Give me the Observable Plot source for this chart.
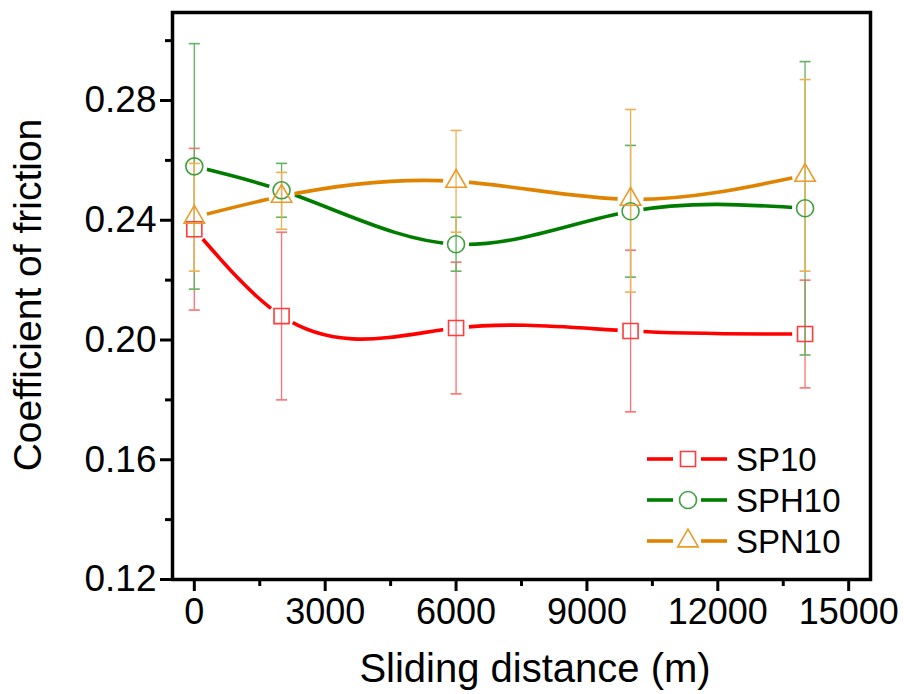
<!DOCTYPE html>
<html>
<head>
<meta charset="utf-8">
<script src="https://cdn.jsdelivr.net/npm/d3@7"></script>
<script src="https://cdn.jsdelivr.net/npm/@observablehq/plot@0.6"></script>
<style>
  html, body { margin: 0; padding: 0; background: #fff; }
  #chart { width: 904px; height: 694px; }
</style>
</head>
<body>
<div id="chart"></div>
<script>
// ---- data ----
const distance = [0, 2000, 6000, 10000, 14000];

const sp10    = [0.237, 0.208, 0.204, 0.203, 0.202];
const sp10Hi  = [0.264, 0.236, 0.226, 0.230, 0.220];
const sp10Lo  = [0.210, 0.180, 0.182, 0.176, 0.184];

const sph10   = [0.258, 0.250, 0.232, 0.243, 0.244];
const sph10Hi = [0.299, 0.259, 0.241, 0.265, 0.293];
const sph10Lo = [0.217, 0.241, 0.223, 0.221, 0.195];

const spn10   = [0.241, 0.248, 0.253, 0.247, 0.255];
const spn10Hi = [0.259, 0.256, 0.270, 0.277, 0.287];
const spn10Lo = [0.223, 0.237, 0.236, 0.216, 0.223];

const seriesNames = ["SP10", "SPH10", "SPN10"];
const xTicks = [0, 3000, 6000, 9000, 12000, 15000];
const xMinor = [1500, 4500, 7500, 10500, 13500];
const yTicks = [0.12, 0.16, 0.20, 0.24, 0.28];
const yMinor = [0.14, 0.18, 0.22, 0.26, 0.30];
const xTitle = "Sliding distance (m)";
const yTitle = "Coefficient of friction";

// ---- styles ----
const lineColor = {SP10: "#ff0000", SPH10: "#007d00", SPN10: "#e08300"};
const markColor = {SP10: "#ff3b3b", SPH10: "#3f9f3f", SPN10: "#e99a2a"};
const barColor  = {SP10: "#ff7070", SPH10: "#5fb35f", SPN10: "#f0b050"};
const symbolOf  = {SP10: "square", SPH10: "circle", SPN10: "triangle"};
const radiusOf  = {SP10: 8.5, SPH10: 8.5, SPN10: 7.6};

const table = [[sp10, sp10Lo, sp10Hi], [sph10, sph10Lo, sph10Hi], [spn10, spn10Lo, spn10Hi]];
const rows = [];
seriesNames.forEach((s, i) => {
  distance.forEach((d, j) => {
    rows.push({series: s, d, v: table[i][0][j], lo: table[i][1][j], hi: table[i][2][j]});
  });
});
const bySeries = s => rows.filter(r => r.series === s);

// error-bar cap symbol
const capSymbol = {
  draw(context, size) {
    const r = Math.sqrt(size / Math.PI);
    context.moveTo(-r, 0);
    context.lineTo(r, 0);
  }
};

// natural cubic spline curve, y as a function of x (like Origin's spline connector)
function curveSplineX(context) {
  let xs, ys;
  return {
    areaStart() {}, areaEnd() {},
    lineStart() { xs = []; ys = []; },
    point(x, y) { xs.push(+x); ys.push(+y); },
    lineEnd() {
      const n = xs.length;
      if (!n) return;
      context.moveTo(xs[0], ys[0]);
      if (n < 3) { for (let i = 1; i < n; i++) context.lineTo(xs[i], ys[i]); return; }
      const h = [], M = new Array(n).fill(0);
      for (let i = 0; i < n - 1; i++) h.push(xs[i + 1] - xs[i]);
      const a = [], b = [], c = [], r = [];
      for (let i = 1; i < n - 1; i++) {
        a.push(h[i - 1]); b.push(2 * (h[i - 1] + h[i])); c.push(h[i]);
        r.push(6 * ((ys[i + 1] - ys[i]) / h[i] - (ys[i] - ys[i - 1]) / h[i - 1]));
      }
      const m = b.length;
      for (let i = 1; i < m; i++) {
        const w = a[i] / b[i - 1];
        b[i] -= w * c[i - 1];
        r[i] -= w * r[i - 1];
      }
      const sol = new Array(m);
      sol[m - 1] = r[m - 1] / b[m - 1];
      for (let i = m - 2; i >= 0; i--) sol[i] = (r[i] - c[i] * sol[i + 1]) / b[i];
      for (let i = 0; i < m; i++) M[i + 1] = sol[i];
      for (let i = 0; i < n - 1; i++) {
        const hi = h[i], dy = (ys[i + 1] - ys[i]) / hi;
        const m0 = dy - hi * (2 * M[i] + M[i + 1]) / 6;
        const m1 = dy + hi * (M[i] + 2 * M[i + 1]) / 6;
        context.bezierCurveTo(
          xs[i] + hi / 3, ys[i] + m0 * hi / 3,
          xs[i + 1] - hi / 3, ys[i + 1] - m1 * hi / 3,
          xs[i + 1], ys[i + 1]
        );
      }
    }
  };
}

const font = "'Liberation Sans', Arial, Helvetica, sans-serif";

const marks = [];
seriesNames.forEach(s => {
  marks.push(Plot.line(bySeries(s), {x: "d", y: "v", stroke: lineColor[s], strokeWidth: 3.6, curve: curveSplineX}));
});
marks.push(Plot.dot(rows, {x: "d", y: "v", r: 13, fill: "white", stroke: "none"}));
seriesNames.forEach(s => {
  const data = bySeries(s);
  marks.push(Plot.ruleX(data, {x: "d", y1: "lo", y2: "hi", stroke: barColor[s], strokeWidth: 1.3}));
  marks.push(Plot.dot(data, {x: "d", y: "lo", symbol: capSymbol, r: 5.5, stroke: barColor[s], strokeWidth: 1.6, fill: "none"}));
  marks.push(Plot.dot(data, {x: "d", y: "hi", symbol: capSymbol, r: 5.5, stroke: barColor[s], strokeWidth: 1.6, fill: "none"}));
});
seriesNames.forEach(s => {
  marks.push(Plot.dot(bySeries(s), {x: "d", y: "v", symbol: symbolOf[s], r: radiusOf[s], stroke: markColor[s], strokeWidth: 1.6, fill: "none"}));
});
marks.push(Plot.axisX(xTicks, {tickSize: 12, tickPadding: 7, strokeWidth: 3, fontSize: 36, color: "black", tickFormat: d3.format("d"), label: null}));
marks.push(Plot.axisX(xMinor, {tickSize: 7, strokeWidth: 3, color: "black", tickFormat: () => "", label: null}));
marks.push(Plot.axisY(yTicks, {tickSize: 12, tickPadding: 4, strokeWidth: 3, fontSize: 37, color: "black", tickFormat: d3.format(".2f"), label: null}));
marks.push(Plot.axisY(yMinor, {tickSize: 7, strokeWidth: 3, color: "black", tickFormat: () => "", label: null}));
marks.push(Plot.frame({stroke: "black", strokeWidth: 3.5}));

const chart = Plot.plot({
  width: 904,
  height: 694,
  marginLeft: 172,
  marginRight: 34,
  marginTop: 12,
  marginBottom: 115,
  x: {domain: [-500, 15500]},
  y: {domain: [0.12, 0.3094]},
  style: {fontFamily: font, background: "white", color: "black"},
  marks
});
document.getElementById("chart").appendChild(chart);

// ---- titles & legend ----
const svg = d3.select(chart);
svg.append("text")
  .attr("x", 535).attr("y", 682)
  .attr("text-anchor", "middle")
  .attr("font-family", font).attr("font-size", 40).attr("fill", "black")
  .text(xTitle);
svg.append("text")
  .attr("transform", "translate(41,295) rotate(-90)")
  .attr("text-anchor", "middle")
  .attr("font-family", font).attr("font-size", 39).attr("fill", "black")
  .text(yTitle);

const legendY = [459, 500, 541];
const lg = svg.append("g");
seriesNames.forEach((s, i) => {
  const y = legendY[i];
  lg.append("line").attr("x1", 647).attr("x2", 673).attr("y1", y).attr("y2", y)
    .attr("stroke", lineColor[s]).attr("stroke-width", 3.6);
  lg.append("line").attr("x1", 701).attr("x2", 727).attr("y1", y).attr("y2", y)
    .attr("stroke", lineColor[s]).attr("stroke-width", 3.6);
  const type = {square: d3.symbolSquare, circle: d3.symbolCircle, triangle: d3.symbolTriangle}[symbolOf[s]];
  const r = radiusOf[s];
  lg.append("path").attr("d", d3.symbol(type, Math.PI * r * r)())
    .attr("transform", `translate(688,${y})`)
    .attr("fill", "none").attr("stroke", markColor[s]).attr("stroke-width", 1.6);
  lg.append("text").attr("x", 736).attr("y", y + 12)
    .attr("text-anchor", "start")
    .attr("font-family", font).attr("font-size", 33).attr("fill", "black")
    .text(s);
});
</script>
</body>
</html>
